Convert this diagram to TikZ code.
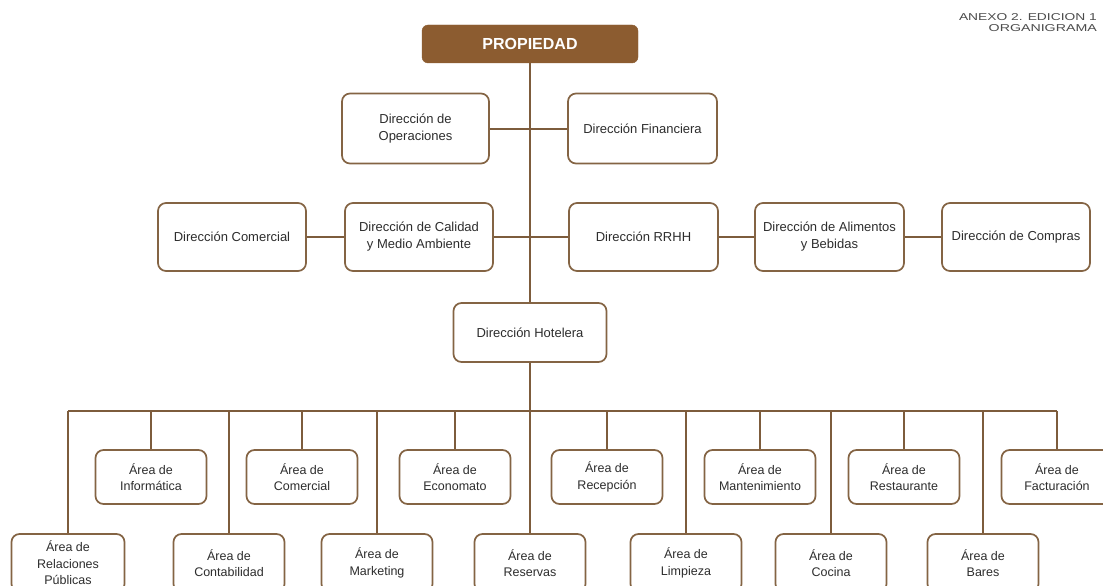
\documentclass[tikz,border=0pt]{standalone}
\usepackage{fontspec}
\setmainfont{Liberation Sans}
\usepackage{graphicx}
\definecolor{brn}{RGB}{140,92,48}
\definecolor{ln}{RGB}{125,92,60}
\definecolor{bd}{RGB}{132,100,68}
\definecolor{tx}{RGB}{45,45,45}
\begin{document}
\begin{tikzpicture}[x=1pt,y=-1pt,
  dbox/.style={draw=bd, line width=1.7pt, rounded corners=8pt, fill=white,
    align=center, text=tx, inner sep=0pt, font=\fontsize{13}{17}\selectfont,
    minimum width=148pt, minimum height=68pt},
  abox/.style={draw=bd, line width=1.7pt, rounded corners=8pt, fill=white,
    align=center, text=tx, inner sep=0pt, font=\fontsize{12.5}{16.5}\selectfont,
    minimum width=111pt, minimum height=54pt},
  lbox/.style={abox, minimum height=58pt},
  conn/.style={draw=ln, line width=2pt}]
\clip (0,0) rectangle (1103,586);
\fill[white] (0,0) rectangle (1103,586);

% top
\node[draw=brn, fill=brn, rounded corners=6pt, minimum width=216pt, minimum height=38pt,
  inner sep=0pt, text=white, font=\fontsize{16}{18}\selectfont\bfseries] (prop) at (530,44) {PROPIEDAD};
\node[anchor=north east, align=right, text=tx!85, inner sep=0pt,
  font=\fontsize{10}{11.5}\selectfont] (anexo) at (1097,13)
  {\scalebox{1.38}[1]{ANEXO 2. EDICION 1}\\\scalebox{1.42}[1]{ORGANIGRAMA}};

% row 1
\node[dbox, minimum width=147pt, minimum height=70pt] (ops) at (415.5,128.5) {Dirección de\\Operaciones};
\node[dbox, minimum width=149pt, minimum height=70pt] (fin) at (642.5,128.5) {Dirección Financiera};

% row 2
\node[dbox] (com) at (232,237) {Dirección Comercial};
\node[dbox] (cal) at (419,237) {Dirección de Calidad\\y Medio Ambiente};
\node[dbox, minimum width=149pt] (rrhh) at (643.5,237) {Dirección RRHH};
\node[dbox, minimum width=149pt] (ali) at (829.5,237) {Dirección de Alimentos\\y Bebidas};
\node[dbox] (comp) at (1016,237) {Dirección de Compras};

% hotelera
\node[dbox, minimum width=153pt, minimum height=59pt] (hot) at (530,332.5) {Dirección Hotelera};

% upper areas
\node[abox] (inf) at (151,477) {Área de\\Informática};
\node[abox] (acom) at (302,477) {Área de\\Comercial};
\node[abox] (eco) at (455,477) {Área de\\Economato};
\node[abox] (rec) at (607,477) {Área de\\Recepción};
\node[abox] (man) at (760,477) {Área de\\Mantenimiento};
\node[abox] (rest) at (904,477) {Área de\\Restaurante};
\node[abox] (fac) at (1057,477) {Área de\\Facturación};

% lower areas
\node[lbox, minimum width=113pt] (rp) at (68,563) {Área de\\Relaciones\\Públicas};
\node[lbox] (cont) at (229,563) {Área de\\Contabilidad};
\node[lbox] (mkt) at (377,563) {Área de\\Marketing};
\node[lbox] (res) at (530,563) {Área de\\Reservas};
\node[lbox] (limp) at (686,563) {Área de\\Limpieza};
\node[lbox] (coc) at (831,563) {Área de\\Cocina};
\node[lbox] (bar) at (983,563) {Área de\\Bares};

\coordinate (bus) at (0,411);

% connectors
\draw[conn] (prop.south) -- (hot.north);
\draw[conn] (ops.east) -- (fin.west);
\draw[conn] (com.east) -- (cal.west);
\draw[conn] (cal.east) -- (rrhh.west);
\draw[conn] (rrhh.east) -- (ali.west);
\draw[conn] (ali.east) -- (comp.west);
\draw[conn] (hot.south) -- (res.north);
\draw[conn] (rp.north |- bus) -- (fac.north |- bus);
\foreach \n in {inf,acom,eco,rec,man,rest,fac,rp,cont,mkt,limp,coc,bar}
  \draw[conn] (\n.north |- bus) -- (\n.north);
\end{tikzpicture}
\end{document}
